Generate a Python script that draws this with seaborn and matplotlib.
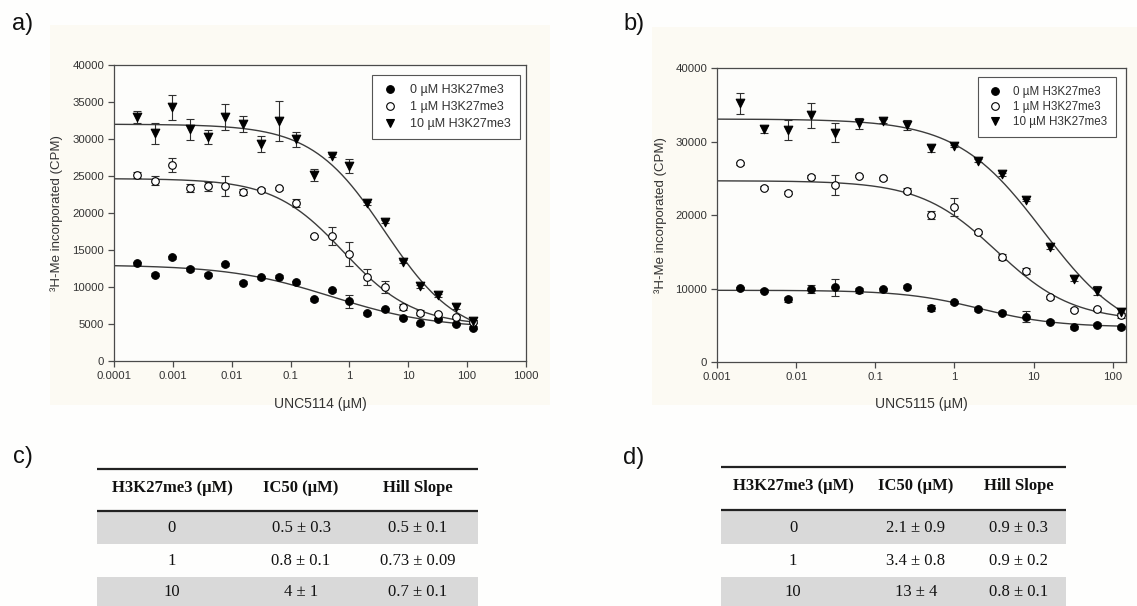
import numpy as np
import pandas as pd
import matplotlib
matplotlib.use("Agg")
import matplotlib.pyplot as plt
from matplotlib.lines import Line2D
from matplotlib.patches import Rectangle
import seaborn as sns

# ---------------- data ----------------
series_labels = ["0 µM H3K27me3", "1 µM H3K27me3", "10 µM H3K27me3"]

# panel a (UNC5114)
xa = [0.000244, 0.000488, 0.000977, 0.00195, 0.0039, 0.0078, 0.0156, 0.03125,
      0.0625, 0.125, 0.25, 0.5, 1, 2, 4, 8, 16, 32, 64, 128]
a0 = [13200, 11660, 14010, 12470, 11660, 13100, 10580, 11310, 11390, 10630,
      8330, 9590, 8060, 6440, 6980, 5850, 5090, 5630, 5000, 4500]
a0_err = [200, 200, 200, 300, 200, 200, 200, 200, 200, 200,
          200, 200, 900, 200, 200, 200, 200, 200, 200, 200]
a1 = [25170, 24360, 26520, 23370, 23640, 23690, 22880, 23150, 23330, 21390,
      16890, 16890, 14460, 11390, 10040, 7340, 6530, 6350, 5900, 5310]
a1_err = [400, 590, 950, 520, 610, 1350, 400, 200, 200, 560,
          150, 1190, 1600, 1060, 810, 400, 300, 200, 200, 200]
a10 = [32930, 30760, 34280, 31300, 30300, 32930, 31980, 29320, 32430, 29950,
       25130, 27740, 26350, 21300, 18820, 13420, 10130, 8870, 7340, 5400]
a10_err = [810, 1370, 1710, 1420, 970, 1780, 1080, 1080, 2750, 1030,
           860, 200, 900, 200, 200, 200, 200, 200, 300, 200]

# panel b (UNC5115)
xb = [0.00195, 0.0039, 0.0078, 0.0156, 0.03125, 0.0625, 0.125, 0.25, 0.5,
      1, 2, 4, 8, 16, 32, 64, 128]
b0 = [10110, 9740, 8570, 9930, 10200, 9790, 9930, 10290, 7350,
      8160, 7210, 6750, 6200, 5520, 4760, 5080, 4760]
b0_err = [200, 200, 300, 560, 1130, 300, 200, 200, 400,
          200, 200, 200, 750, 200, 200, 200, 200]
b1 = [27070, 23760, 23080, 25250, 24120, 25350, 25030, 23350, 20040,
      21170, 17690, 14370, 12460, 8840, 7120, 7210, 6390]
b1_err = [200, 200, 200, 200, 1360, 200, 200, 300, 520,
          1250, 200, 400, 400, 200, 200, 200, 300]
b10 = [35240, 31700, 31610, 33600, 31240, 32520, 32830, 32280, 29110,
       29430, 27430, 25580, 22080, 15650, 11380, 9740, 6880]
b10_err = [1430, 500, 1400, 1720, 1290, 730, 300, 680, 520,
           200, 200, 200, 200, 300, 300, 630, 450]

# fitted 4-parameter logistic curves (top, bottom, IC50, Hill slope)
fit_a_top = [13000, 24650, 32000]
fit_a_bottom = [4400, 4800, 3000]
fit_a_ic50 = [0.5, 0.8, 4]
fit_a_hill = [0.5, 0.73, 0.7]
fit_b_top = [9800, 24700, 33100]
fit_b_bottom = [4800, 5600, 2800]
fit_b_ic50 = [2.1, 3.4, 13]
fit_b_hill = [0.9, 0.9, 0.8]

# tables
tbl_header = ["H3K27me3 (µM)", "IC50 (µM)", "Hill Slope"]
tbl_conc = ["0", "1", "10"]
c_ic50 = ["0.5 ± 0.3", "0.8 ± 0.1", "4 ± 1"]
c_hill = ["0.5 ± 0.1", "0.73 ± 0.09", "0.7 ± 0.1"]
d_ic50 = ["2.1 ± 0.9", "3.4 ± 0.8", "13 ± 4"]
d_hill = ["0.9 ± 0.3", "0.9 ± 0.2", "0.8 ± 0.1"]

xa_ticks = [0.0001, 0.001, 0.01, 0.1, 1, 10, 100, 1000]
xa_ticklabels = ["0.0001", "0.001", "0.01", "0.1", "1", "10", "100", "1000"]
xb_ticks = [0.001, 0.01, 0.1, 1, 10, 100]
xb_ticklabels = ["0.001", "0.01", "0.1", "1", "10", "100"]

# ---------------- style ----------------
sns.set_style("ticks")
plt.rcParams['font.family'] = ['Liberation Sans', 'DejaVu Sans']

W, H = 1137, 606
fig = plt.figure(figsize=(W / 100, H / 100), dpi=100)
fig.patch.set_facecolor("#fefefd")

bg = fig.add_axes([0, 0, 1, 1], zorder=-5)
bg.set_xlim(0, W)
bg.set_ylim(H, 0)
bg.axis("off")

CREAM = "#fcfaf3"
bg.add_patch(Rectangle((50, 25), 500, 380, color=CREAM, lw=0))
bg.add_patch(Rectangle((652, 27), 485, 378, color=CREAM, lw=0))

AX_COL = "#4a4a4a"
TXT_COL = "#333333"


def px_axes(l, r, t, b):
    return [l / W, 1 - b / H, (r - l) / W, (b - t) / H]


marker_specs = [
    dict(marker="o", facecolor="black", s=30),
    dict(marker="o", facecolor="white", s=30),
    dict(marker="v", facecolor="black", s=38),
]


def draw_panel(ax, x, ys, errs, tops, bottoms, ic50s, hills, xlim, curve_x, xticks,
               xticklabels, yticks, xlabel, legend_anchor, leg_fs, leg_sp):
    ax.set_facecolor("#fdfdfb")
    ax.set_xscale("log")
    for i in range(3):
        top, bot, ic, h = tops[i], bottoms[i], ic50s[i], hills[i]
        xc = np.logspace(np.log10(curve_x[0]), np.log10(curve_x[1]), 300)
        yc = bot + (top - bot) / (1 + (xc / ic) ** h)
        sns.lineplot(x=xc, y=yc, ax=ax, color="#3c3c3c", lw=1.0, zorder=2,
                     estimator=None, sort=False)
        ax.errorbar(x, ys[i], yerr=errs[i], fmt="none", ecolor="#2f2f2f",
                    elinewidth=0.8, capsize=3.2, capthick=0.8, zorder=3)
        spec = marker_specs[i]
        df = pd.DataFrame({"x": x, "y": ys[i]})
        sns.scatterplot(data=df, x="x", y="y", ax=ax, marker=spec["marker"],
                        s=spec["s"], color=spec["facecolor"], edgecolor="black",
                        linewidth=0.8, zorder=4, legend=False)
    ax.set_xlim(*xlim)
    ax.set_ylim(0, 40000)
    ax.set_xticks(xticks)
    ax.set_xticklabels(xticklabels)
    ax.xaxis.set_minor_locator(matplotlib.ticker.NullLocator())
    ax.set_yticks(yticks)
    ax.set_yticklabels([str(v) for v in yticks])
    ax.tick_params(axis="both", direction="out", length=4, width=0.9,
                   color=AX_COL, labelsize=8.2, labelcolor=TXT_COL, pad=3)
    for sp in ax.spines.values():
        sp.set_visible(True)
        sp.set_color(AX_COL)
        sp.set_linewidth(0.9)
    ax.set_xlabel(xlabel, fontsize=10, color=TXT_COL)
    ax.set_ylabel("³H-Me incorporated (CPM)", fontsize=9.5, color=TXT_COL)
    handles = [Line2D([], [], linestyle="none", marker=marker_specs[i]["marker"],
                      markersize=5.5 if i < 2 else 6,
                      markerfacecolor=marker_specs[i]["facecolor"],
                      markeredgecolor="black", markeredgewidth=0.8)
               for i in range(3)]
    leg = ax.legend(handles, series_labels, loc="upper right",
                    bbox_to_anchor=legend_anchor, fontsize=leg_fs, frameon=True,
                    fancybox=False, edgecolor="#555555", framealpha=1,
                    borderpad=0.75, handletextpad=0.9, labelspacing=leg_sp,
                    handlelength=1.4, borderaxespad=0)
    leg.get_frame().set_linewidth(0.8)
    for t in leg.get_texts():
        t.set_color(TXT_COL)
    return ax


# panel a
ax_a = fig.add_axes(px_axes(114, 526, 65, 361))
draw_panel(ax_a, xa, [a0, a1, a10], [a0_err, a1_err, a10_err],
           fit_a_top, fit_a_bottom, fit_a_ic50, fit_a_hill,
           (0.0001, 1000), (0.0001, 135), xa_ticks, xa_ticklabels,
           list(range(0, 40001, 5000)), "UNC5114 (µM)", (0.985, 0.966), 9, 0.38)
ax_a.yaxis.set_label_coords(-0.124, 0.5)
ax_a.xaxis.set_label_coords(0.5, -0.122)

# panel b
ax_b = fig.add_axes(px_axes(717, 1125.5, 68.3, 362.3))
draw_panel(ax_b, xb, [b0, b1, b10], [b0_err, b1_err, b10_err],
           fit_b_top, fit_b_bottom, fit_b_ic50, fit_b_hill,
           (0.001, 145), (0.001, 135), xb_ticks, xb_ticklabels,
           list(range(0, 40001, 10000)), "UNC5115 (µM)", (0.977, 0.970), 8.4, 0.28)
ax_b.yaxis.set_label_coords(-0.122, 0.5)
ax_b.xaxis.set_label_coords(0.5, -0.118)

# panel letters
for s, (x, y) in zip(["a)", "b)", "c)", "d)"],
                     [(12, 24), (623, 24), (13, 457), (623, 458)]):
    bg.text(x, y, s, fontsize=17, ha="left", va="center", color="#111111")


# tables
def draw_table(x0, x1, rule1, rule2, col_x, header_y, ic50s, hills):
    serif = ["Liberation Serif", "DejaVu Serif"]
    bg.plot([x0, x1], [rule1, rule1], color="#222222", lw=1.6, solid_capstyle="butt")
    bg.plot([x0, x1], [rule2, rule2], color="#222222", lw=1.6, solid_capstyle="butt")
    bands = [(rule2 + 0.8, 544), (577, 606)]
    for (t, b) in bands:
        bg.add_patch(Rectangle((x0, t), x1 - x0, b - t, color="#d9d9d9", lw=0))
    for cx, h in zip(col_x, tbl_header):
        bg.text(cx, header_y, h, family=serif, fontweight="bold", fontsize=12,
                ha="center", va="center", color="#111111")
    row_y = [527.5, 561, 592.5]
    for r in range(3):
        for cx, val in zip(col_x, [tbl_conc[r], ic50s[r], hills[r]]):
            bg.text(cx, row_y[r], val, family=serif, fontsize=12,
                    ha="center", va="center", color="#111111")


draw_table(97, 478, 468.5, 510.7, [172, 301, 418], 487.5, c_ic50, c_hill)
draw_table(721, 1066, 467, 510, [793, 916, 1018.5], 485.5, d_ic50, d_hill)

fig.savefig("out.png", dpi=100, facecolor=fig.get_facecolor())
